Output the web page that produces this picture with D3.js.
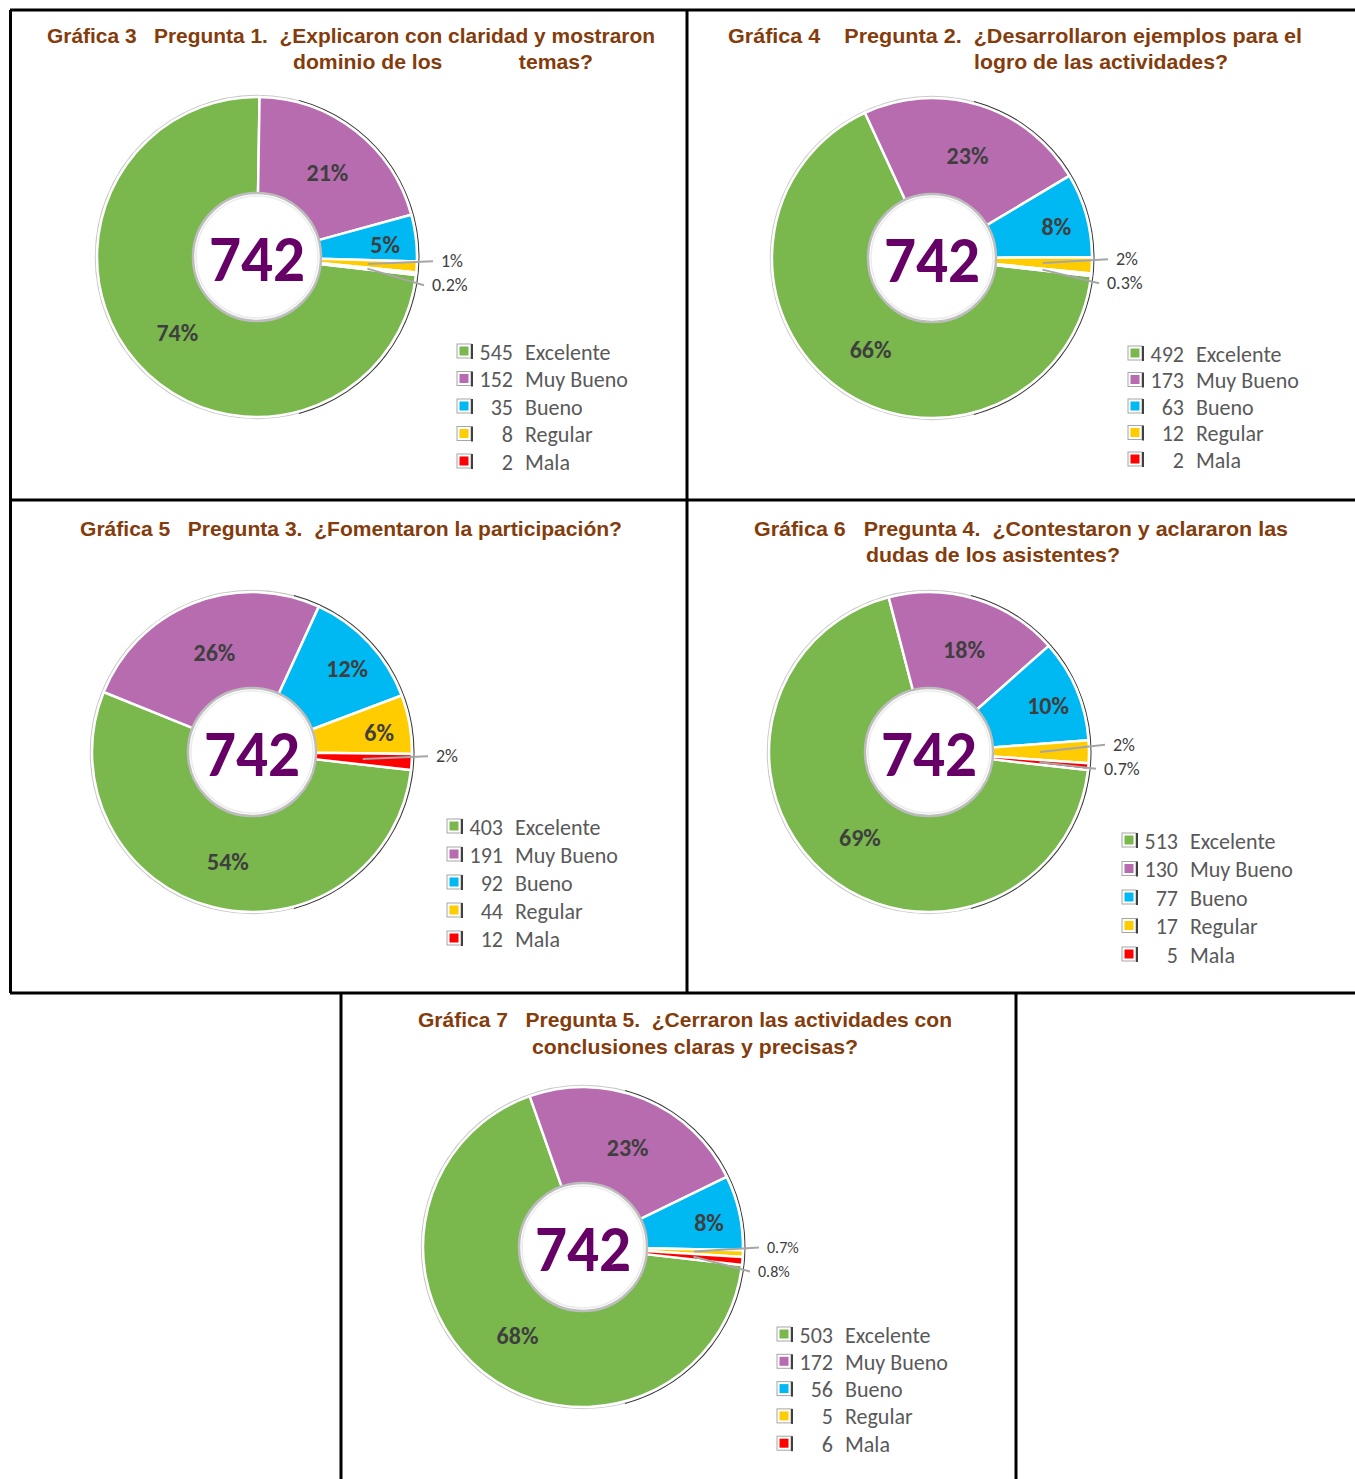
<!DOCTYPE html>
<html>
<head>
<meta charset="utf-8">
<script src="https://cdn.jsdelivr.net/npm/d3@7"></script>
<style>
  body { margin: 0; background: #fff; }
  text { white-space: pre; }
</style>
</head>
<body>
<div id="chart"></div>
<script>
// data
var categories = ["Excelente", "Muy Bueno", "Bueno", "Regular", "Mala"];
var colors = ["#7ab74d", "#b86cb0", "#00b9f2", "#ffcc00", "#ff0000"];

var counts = [
    [545, 152, 35, 8, 2],
    [492, 173, 63, 12, 2],
    [403, 191, 92, 44, 12],
    [513, 130, 77, 17, 5],
    [503, 172, 56, 5, 6]
];

var pctLabels = [
    ["74%", "21%", "5%", "1%", "0.2%"],
    ["66%", "23%", "8%", "2%", "0.3%"],
    ["54%", "26%", "12%", "6%", "2%"],
    ["69%", "18%", "10%", "2%", "0.7%"],
    ["68%", "23%", "8%", "0.7%", "0.8%"]
];

var titles = [
    ["Gráfica 3   Pregunta 1.  ¿Explicaron con claridad y mostraron", "dominio de los             temas?"],
    ["Gráfica 4    Pregunta 2.  ¿Desarrollaron ejemplos para el", "logro de las actividades?"],
    ["Gráfica 5   Pregunta 3.  ¿Fomentaron la participación?"],
    ["Gráfica 6   Pregunta 4.  ¿Contestaron y aclararon las", "dudas de los asistentes?"],
    ["Gráfica 7   Pregunta 5.  ¿Cerraron las actividades con", "conclusiones claras y precisas?"]
];

// layout of each panel (pixels)
var panels = [
    { cx: 257, cy: 257, legX: 457, legY: 352, legStep: 27.5,
      lines: [[47, 35, 608], [293, 61, 300]] },
    { cx: 932, cy: 258, legX: 1128, legY: 354, legStep: 26.5,
      lines: [[728, 35, 574], [974, 61, 254]] },
    { cx: 252, cy: 752, legX: 447, legY: 827, legStep: 28,
      lines: [[80, 528, 542]] },
    { cx: 929, cy: 752, legX: 1122, legY: 841, legStep: 28.5,
      lines: [[754, 528, 534], [866, 554, 254]] },
    { cx: 583, cy: 1247, legX: 777, legY: 1335, legStep: 27.3,
      lines: [[418, 1019, 534], [532, 1046, 326]] }
];

var width = 1355, height = 1479;
var outerR = 160, innerR = 63;
var startDeg = 96.5;
var bodyFont = "Carlito, Calibri, Lato, 'Open Sans', sans-serif";

var svg = d3.select("#chart")
    .append("svg")
        .attr("width", width)
        .attr("height", height);

svg.append("rect")
    .attr("width", width)
    .attr("height", height)
    .attr("fill", "#fff");

var pie = d3.pie()
    .sort(null)
    .value(function(d){ return d; })
    .startAngle(startDeg * Math.PI / 180)
    .endAngle(startDeg * Math.PI / 180 + 2 * Math.PI);

var arc = d3.arc()
    .innerRadius(innerR)
    .outerRadius(outerR);

panels.forEach(function(p, i){
    var g = svg.append("g");
    var total = d3.sum(counts[i]);

    // titles
    titles[i].forEach(function(t, j){
        var l = p.lines[j];
        g.append("text")
            .attr("x", l[0])
            .attr("y", l[1] + 7.5)
            .attr("textLength", l[2])
            .attr("lengthAdjust", "spacingAndGlyphs")
            .attr("font-family", "'Liberation Sans Narrow', 'Arial Narrow', 'Liberation Sans', Arial, sans-serif")
            .attr("font-weight", "bold")
            .attr("font-size", "21px")
            .attr("fill", "#843c0c")
            .text(t);
    });

    var dg = g.append("g")
        .attr("transform", "translate(" + p.cx + "," + p.cy + ")");

    // outer ring
    dg.append("circle")
        .attr("r", outerR + 1.5)
        .attr("fill", "none")
        .attr("stroke", "#c8c8c8")
        .attr("stroke-width", 1.5);

    dg.append("path")
        .attr("d", d3.arc()
            .innerRadius(outerR + 1.5).outerRadius(outerR + 2.5)
            .startAngle(15 * Math.PI / 180).endAngle(165 * Math.PI / 180)())
        .attr("fill", "#3a3a3a");

    var arcs = pie(counts[i]);

    dg.selectAll(".slice")
        .data(arcs)
        .enter()
        .append("path")
            .attr("class", "slice")
            .attr("d", arc)
            .attr("fill", function(d, k){ return colors[k]; })
            .attr("stroke", "#fff")
            .attr("stroke-width", 2.5)
            .attr("stroke-linejoin", "round");

    // hole
    dg.append("circle")
        .attr("r", innerR + 1)
        .attr("fill", "#fff")
        .attr("stroke", "#bdbdbd")
        .attr("stroke-width", 2.5);
    dg.append("circle")
        .attr("r", innerR - 2)
        .attr("fill", "none")
        .attr("stroke", "#ececec")
        .attr("stroke-width", 1.5);

    dg.append("text")
        .attr("x", 0)
        .attr("y", 24)
        .attr("text-anchor", "middle")
        .attr("textLength", 96)
        .attr("lengthAdjust", "spacingAndGlyphs")
        .attr("font-family", bodyFont)
        .attr("font-weight", 900)
        .attr("font-size", "66px")
        .attr("fill", "#660066")
        .text(total);

    // labels
    var outIdx = 0, lastY = -1e9;
    arcs.forEach(function(d, k){
        var share = d.value / total;
        var mid = (d.startAngle + d.endAngle) / 2;
        if (share >= 0.03){
            var r = share > 0.15 ? 110 : 126;
            dg.append("text")
                .attr("x", r * Math.sin(mid) + 3)
                .attr("y", -r * Math.cos(mid) + 11)
                .attr("text-anchor", "middle")
                .attr("font-family", bodyFont)
                .attr("font-weight", "bold")
                .attr("font-size", "24px")
                .attr("fill", "#3f3f3f")
                .text(pctLabels[i][k]);
        } else {
            var ly = -(outerR + 20) * Math.cos(mid) - 7;
            ly = Math.max(ly, lastY + 24);
            lastY = ly;
            var lx = outerR + 24 - 9 * outIdx;
            var sx = 111 * Math.sin(mid), sy = -111 * Math.cos(mid);
            dg.append("line")
                .attr("x1", sx).attr("y1", sy)
                .attr("x2", lx - 8).attr("y2", ly)
                .attr("stroke", "#a6a6a6")
                .attr("stroke-width", 2);
            dg.append("text")
                .attr("x", lx)
                .attr("y", ly + 6)
                .attr("font-family", bodyFont)
                .attr("font-size", i == 4 ? "16px" : "18px")
                .attr("fill", "#404040")
                .text(pctLabels[i][k]);
            outIdx += 1;
        }
    });

    // legend
    categories.forEach(function(c, k){
        var y = p.legY + k * p.legStep;
        var lg = g.append("g");
        lg.append("rect")
            .attr("x", p.legX).attr("y", y - 8)
            .attr("width", 14).attr("height", 14)
            .attr("fill", "#fff")
            .attr("stroke", "#a6a6a6")
            .attr("stroke-width", 1);
        lg.append("rect")
            .attr("x", p.legX + 2.5).attr("y", y - 5.5)
            .attr("width", 9).attr("height", 9)
            .attr("fill", colors[k]);
        lg.append("rect")
            .attr("x", p.legX + 14).attr("y", y - 8)
            .attr("width", 2).attr("height", 15)
            .attr("fill", "#404040");
        lg.append("text")
            .attr("x", p.legX + 56)
            .attr("y", y + 7.5)
            .attr("text-anchor", "end")
            .attr("font-family", bodyFont)
            .attr("font-size", "22px")
            .attr("fill", "#595959")
            .text(counts[i][k]);
        lg.append("text")
            .attr("x", p.legX + 68)
            .attr("y", y + 7.5)
            .attr("font-family", bodyFont)
            .attr("font-size", "22px")
            .attr("fill", "#595959")
            .text(c);
    });
});

// panel borders
var borders = svg.append("g")
    .attr("stroke", "#000")
    .attr("stroke-width", 3);
[[10, 10, 1355, 10], [10, 500, 1355, 500], [10, 993, 1355, 993],
 [10.5, 10, 10.5, 993], [687, 10, 687, 993],
 [341, 993, 341, 1479], [1016, 993, 1016, 1479]].forEach(function(l){
    borders.append("line")
        .attr("x1", l[0]).attr("y1", l[1])
        .attr("x2", l[2]).attr("y2", l[3]);
});
</script>
</body>
</html>
